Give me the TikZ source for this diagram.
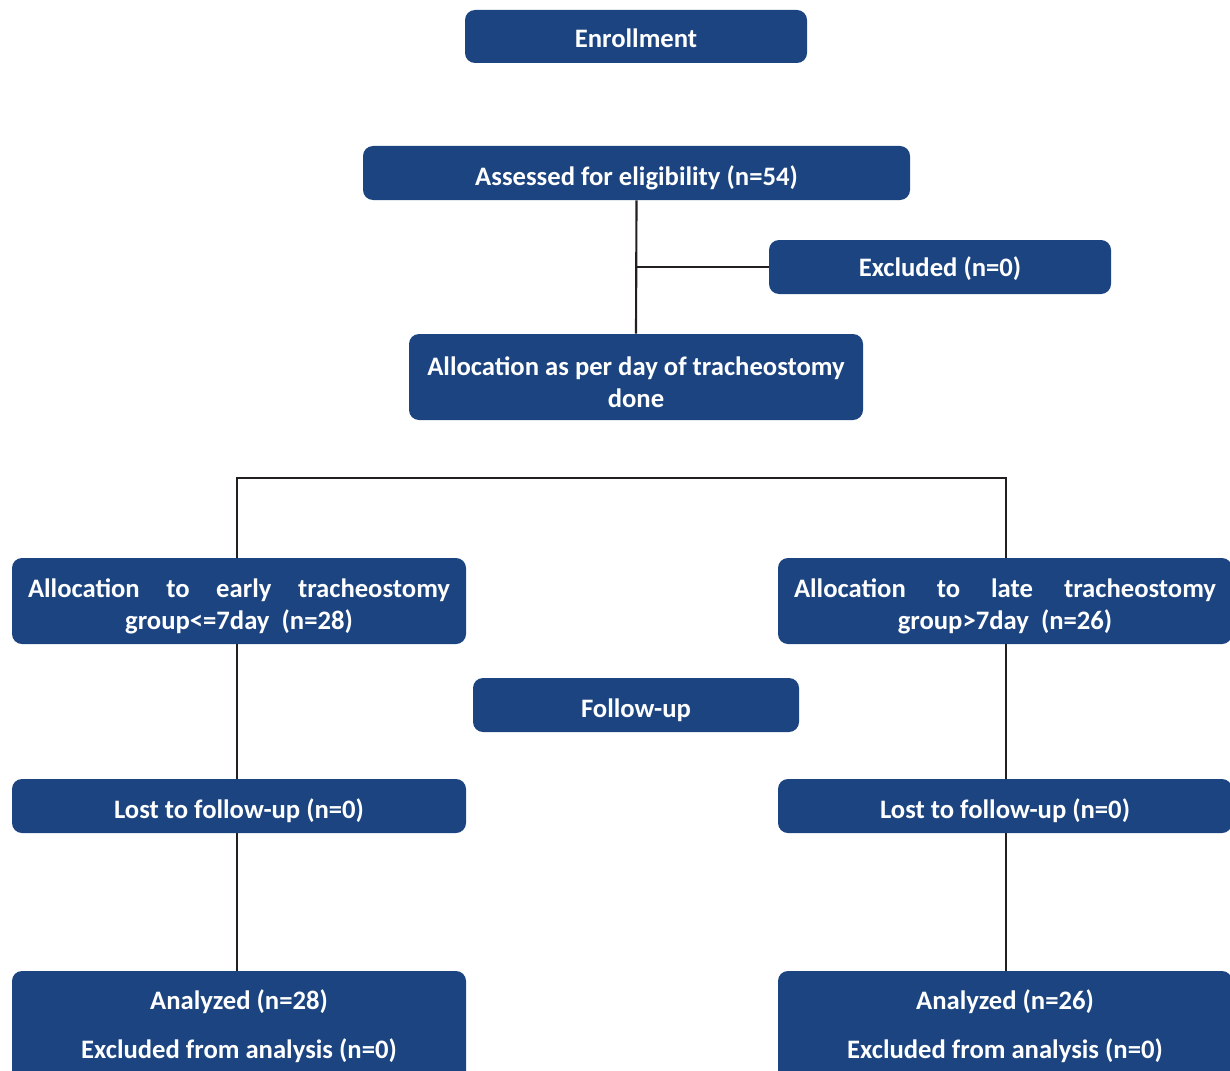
\documentclass[tikz,border=0pt]{standalone}
\usepackage{fontspec}
\setmainfont{Carlito}
\definecolor{boxblue}{RGB}{27,68,128}
\definecolor{linec}{RGB}{35,31,32}
\newcommand\dnstrut{\rule{0pt}{22.5pt}}
\begin{document}
\begin{tikzpicture}[x=0.75pt,y=-0.75pt,
  box/.style={fill=boxblue, draw=none, rounded corners=7.5pt, text=white,
    font=\fontsize{20}{24}\selectfont\bfseries, align=center, inner sep=0pt},
  strutted/.style={execute at begin node={\rule{0pt}{#1}}},
  link/.style={draw=linec, line width=1.6pt}]
\useasboundingbox (0,0) rectangle (1230,1070);
\clip (0,0) rectangle (1230,1070);
\node[box, strutted=17pt, minimum width=256.5pt, minimum height=39.75pt] (enr) at (636,36.5) {Enrollment};
\node[box, strutted=22.5pt, minimum width=410.25pt, minimum height=40.5pt] (assess) at (636.5,173) {Assessed for eligibility (n=54)};
\node[box, strutted=18pt, minimum width=256.5pt, minimum height=40.5pt] (excl) at (940,267) {Excluded (n=0)};
\node[box, minimum width=340.5pt, minimum height=64.5pt] (alloc) at (636,377) {\dnstrut Allocation as per day of tracheostomy\\done};
\node[box, minimum width=340.5pt, minimum height=64.5pt] (early) at (239,601)
  {\dnstrut\makebox[316.5pt][s]{Allocation to early tracheostomy}\\group<=7day\ \ (n=28)};
\node[box, minimum width=340.5pt, minimum height=64.5pt] (late) at (1005,601)
  {\dnstrut\makebox[316.5pt][s]{Allocation to late tracheostomy}\\group>7day\ \ (n=26)};
\node[box, strutted=22.5pt, minimum width=244.5pt, minimum height=40.5pt] (fu) at (636,705) {Follow-up};
\node[box, strutted=22.5pt, minimum width=340.5pt, minimum height=40.5pt] (lost1) at (239,806) {Lost to follow-up (n=0)};
\node[box, strutted=22.5pt, minimum width=340.5pt, minimum height=40.5pt] (lost2) at (1005,806) {Lost to follow-up (n=0)};
\node[box, minimum width=340.5pt, minimum height=82.5pt] (an1) at (239,1026) {Analyzed (n=28)\\[12.75pt]Excluded from analysis (n=0)};
\node[box, minimum width=340.5pt, minimum height=82.5pt] (an2) at (1005,1026) {Analyzed (n=26)\\[12.75pt]Excluded from analysis (n=0)};
\coordinate (bar) at (636,478);
\draw[link] (assess.south) -- (alloc.north);
\draw[link] (assess.south |- excl.west) -- (excl.west);
\draw[link] ([xshift=-1.5pt]early.north) -- ([xshift=-1.5pt]early.north |- bar) -- ([xshift=0.75pt]late.north |- bar) -- ([xshift=0.75pt]late.north);
\draw[link] ([xshift=-1.5pt]early.south) -- ([xshift=-1.5pt]lost1.north);
\draw[link] ([xshift=-1.5pt]lost1.south) -- ([xshift=-1.5pt]an1.north);
\draw[link] ([xshift=0.75pt]late.south) -- ([xshift=0.75pt]lost2.north);
\draw[link] ([xshift=0.75pt]lost2.south) -- ([xshift=0.75pt]an2.north);
\end{tikzpicture}
\end{document}
